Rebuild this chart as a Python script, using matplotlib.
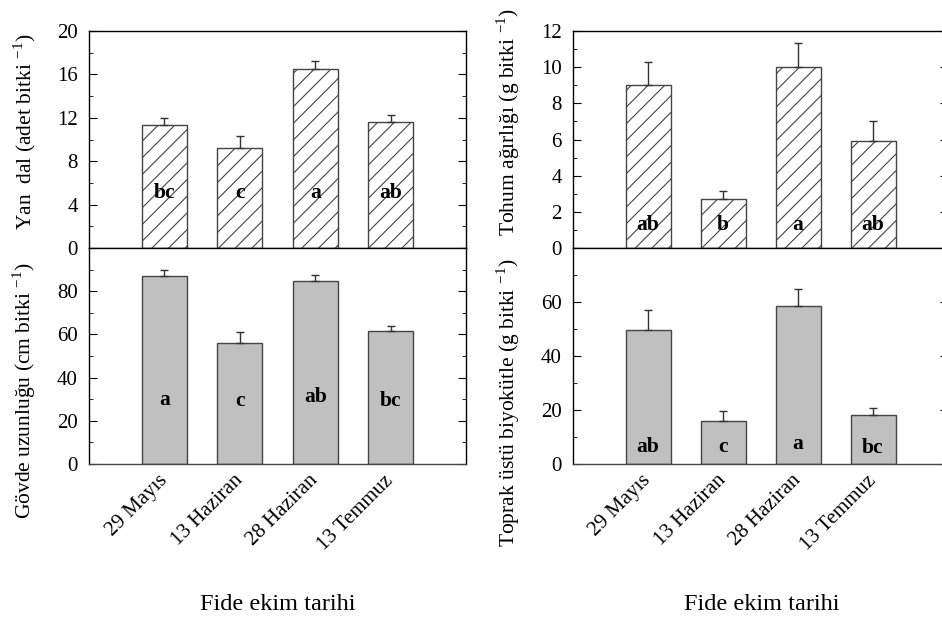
import numpy as np
import matplotlib
matplotlib.use("Agg")
import matplotlib.pyplot as plt

plt.rcParams['font.family'] = ['Liberation Serif', 'DejaVu Serif']
plt.rcParams['mathtext.fontset'] = 'custom'
plt.rcParams['mathtext.rm'] = 'Liberation Serif'
plt.rcParams['hatch.linewidth'] = 0.8

dates = ['29 Mayıs', '13 Haziran', '28 Haziran', '13 Temmuz']

yan_dal = [11.3, 9.2, 16.5, 11.6]
yan_dal_err = [0.7, 1.1, 0.7, 0.7]
yan_dal_let = ['bc', 'c', 'a', 'ab']

govde = [86.9, 56.0, 84.5, 61.8]
govde_err = [3.0, 5.3, 2.9, 2.2]
govde_let = ['a', 'c', 'ab', 'bc']

tohum = [9.0, 2.7, 10.0, 5.9]
tohum_err = [1.28, 0.48, 1.33, 1.1]
tohum_let = ['ab', 'b', 'a', 'ab']

biyo = [49.5, 16.0, 58.6, 18.1]
biyo_err = [7.7, 3.6, 6.1, 2.8]
biyo_let = ['ab', 'c', 'a', 'bc']

x = np.arange(1, 5)
fig = plt.figure(figsize=(9.42, 6.22), dpi=100)

top_y, mid_y, bot_y = 0.950, 0.6013, 0.254
cols = [(0.0945, 0.4947 - 0.0945), (0.6083, 1.0064 - 0.6083)]
fs = 15


def style(ax, ylim, major, minor):
    ax.set_xlim(0, 5)
    ax.set_ylim(*ylim)
    ax.set_yticks(major)
    ax.set_yticks(minor, minor=True)
    ax.tick_params(axis='y', which='both', direction='in', right=True, labelsize=fs, pad=8)
    ax.tick_params(axis='y', which='major', length=6)
    ax.tick_params(axis='y', which='minor', length=3)
    ax.tick_params(axis='x', length=0)
    for s in ax.spines.values():
        s.set_linewidth(1.0)
    ax.spines['bottom'].set_color('#444444')


def bars(ax, vals, err, letters, ly, hatch):
    if hatch:
        ax.bar(x, vals, 0.6, facecolor='white', edgecolor='#444444', hatch='//', linewidth=1.0, zorder=2)
    else:
        ax.bar(x, vals, 0.6, facecolor='#c0c0c0', edgecolor='#444444', linewidth=1.0, zorder=2)
    ax.errorbar(x, vals, yerr=[np.zeros(4), err], fmt='none', ecolor='#333333',
                elinewidth=1.0, capsize=3, capthick=1.0, zorder=3)
    for xi, lt, yy in zip(x, letters, ly):
        ax.text(xi, yy, lt, ha='center', va='center', fontsize=15.5, fontweight='bold', zorder=4)


panels = [
    (cols[0], yan_dal, yan_dal_err, yan_dal_let, govde, govde_err, govde_let,
     (0, 20), [0, 4, 8, 12, 16, 20], np.arange(2, 20, 4), [5.1] * 4,
     (0, 100), [0, 20, 40, 60, 80], np.arange(10, 100, 20), [29.7, 29, 31, 29],
     r'Yan  dal (adet bitki $^{-1}$)', r'Gövde uzunluğu (cm bitki $^{-1}$)',
     0.026, 132, 391),
    (cols[1], tohum, tohum_err, tohum_let, biyo, biyo_err, biyo_let,
     (0, 12), [0, 2, 4, 6, 8, 10, 12], np.arange(1, 12, 2), [1.25] * 4,
     (0, 80), [0, 20, 40, 60], np.arange(10, 80, 20), [6.2, 6.2, 7.4, 6.0],
     r'Tohum ağırlığı (g bitki $^{-1}$)', r'Toprak üstü biyokütle (g bitki $^{-1}$)',
     0.540, 122, 403),
]

for (l, w), tv, te, tl, bv, be, bl, tylim, tmaj, tmin, tly, bylim, bmaj, bmin, bly, tlab, blab, lx, ty, by in panels:
    ax1 = fig.add_axes([l, mid_y, w, top_y - mid_y])
    ax2 = fig.add_axes([l, bot_y, w, mid_y - bot_y])
    bars(ax1, tv, te, tl, tly, True)
    bars(ax2, bv, be, bl, bly, False)
    style(ax1, tylim, tmaj, tmin)
    style(ax2, bylim, bmaj, bmin)
    ax1.set_xticks([])
    ax2.set_xticks(x)
    ax2.set_xticklabels(dates, rotation=45, ha='right', va='center',
                        rotation_mode='anchor', fontsize=fs)
    ax2.tick_params(axis='x', pad=10)
    fig.text(lx, 1 - ty / 622, tlab, rotation=90, ha='center', va='center', fontsize=15.5)
    fig.text(lx, 1 - by / 622, blab, rotation=90, ha='center', va='center', fontsize=15.5)
    fig.text(l + 0.2001, 1 - 604 / 622, 'Fide ekim tarihi', ha='center', va='center', fontsize=17.5)

fig.savefig('out.png', dpi=100)
